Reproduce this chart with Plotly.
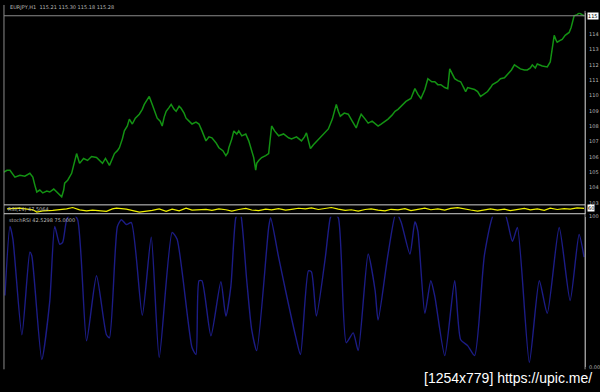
import plotly.graph_objects as go

# ---------------- data ----------------
price_bars = [0,3,6,9,11,16,21,26,29,31,
              33,36,39,43,46,50,53,56,58,60,
              61,64,68,70,73,76,80,84,88,93,
              96,99,102,106,109,111,114,116,119,121,
              124,126,129,132,136,139,141,144,146,149,
              151,154,157,159,161,163,166,168,171,173,
              176,178,181,183,186,189,193,196,199,203,
              206,209,213,216,220,223,225,226,229,231,
              234,236,239,243,246,249,251,253,254,256,
              259,263,266,269,272,276,281,286,289,294,
              299,302,304,306,308,311,313,316,321,326,
              330,334,336,338,342,346,350,354,357,359,
              363,366,370,373,376,379,383,386,390,393,
              396,399,404,409,411,413,416,419,423,426,
              430,433,436,439,443,446,448,451,453,456,
              459,462,464,466,469,473,476,479,482,486,
              489,491,496,499,503,506,510,513,516,519,
              523,526,529,531,534,536,541,546,549,551,
              553,555,556,559,561,564,568,570,571,573,
              576,578,581,583]
price = [105.00,105.13,105.13,104.87,104.68,104.80,104.74,104.93,104.68,104.16,
         103.71,103.84,103.65,103.77,103.71,103.90,103.71,103.58,103.39,103.84,
         104.29,104.48,104.93,105.45,106.22,105.58,105.90,105.77,106.03,105.96,
         105.77,105.58,105.90,105.45,105.90,106.22,106.41,106.60,107.18,107.70,
         108.02,108.47,108.15,108.53,108.79,109.11,109.43,109.76,109.95,109.43,
         109.11,108.53,108.34,108.02,108.60,108.98,109.24,109.43,109.11,108.98,
         109.31,109.18,108.86,108.53,108.34,108.15,108.28,108.15,107.70,107.05,
         107.31,107.25,106.93,106.60,106.41,106.09,106.28,106.60,107.18,107.70,
         107.50,107.70,107.38,107.50,107.05,106.41,105.96,105.13,105.58,105.77,
         105.96,106.09,106.22,108.02,107.70,107.38,107.50,107.25,107.18,107.31,
         107.05,107.31,107.57,107.05,106.54,106.80,106.93,107.18,107.50,107.83,
         108.47,109.43,108.98,108.66,108.86,108.79,108.34,107.89,108.47,108.79,
         108.47,108.21,108.34,108.15,108.02,108.15,108.34,108.47,108.73,108.98,
         109.11,109.31,109.63,109.82,110.14,110.46,110.08,109.82,110.40,111.11,
         110.91,110.91,110.72,110.72,110.53,110.46,111.75,111.36,111.11,110.98,
         110.91,110.53,110.27,110.53,110.46,110.40,110.27,109.95,110.08,110.27,
         110.53,110.72,110.91,111.11,111.17,111.36,111.68,112.01,111.88,111.75,
         111.68,111.68,111.81,112.01,111.81,112.07,111.94,111.88,112.20,113.16,
         113.94,113.61,113.49,113.61,113.68,113.94,114.13,114.45,114.77,115.22,
         115.29,115.41,115.29,115.22]

rsi_bars = [3,16,29,33,39,49,63,69,76,83,89,103,109,113,123,129,136,149,156,163,169,176,183,189,196,
            203,209,216,223,229,236,243,249,256,263,269,276,283,289,296,303,309,316,323,329,
            336,343,349,356,363,369,376,383,389,396,403,409,416,423,429,436,443,449,456,463,
            469,476,483,489,496,503,509,516,523,529,536,543,549,556,563,569,576,583]
rsi = [55,63,44,19,33,37,55,70,44,33,41,26,55,63,52,33,19,37,55,26,52,33,63,41,44,
       50,38,55,45,30,48,60,42,35,52,44,58,40,50,62,55,66,48,60,70,
       52,38,45,30,48,55,40,33,50,44,58,36,50,62,45,55,40,60,68,50,
       42,30,45,55,40,52,35,48,60,44,55,38,62,48,58,52,65,60]

stoch_bars = [1,6,9,18,26,28,38,46,51,56,59,63,68,74,83,93,103,106,114,118,123,128,139,148,156,
              169,174,189,193,196,199,208,218,223,228,233,236,238,244,249,254,266,268,276,283,
              293,298,306,309,314,323,328,331,336,344,351,356,366,373,376,386,394,399,408,413,
              416,423,429,433,443,453,459,466,473,483,493,503,511,516,528,538,546,558,569,578,583]
stoch = [47.7,93.5,85.0,21.6,76.5,73.9,5.2,43.8,93.5,81.7,83.0,98.0,103,98.0,17.6,60.8,21.6,19.6,93.5,98.0,
         94.8,96.1,34.6,86.3,6.5,89.5,85.0,13.1,8.5,57.5,57.5,20.9,56.9,34.0,53.6,99.3,103,101.3,57.5,24.8,
         11.1,92.8,99.3,73.2,51.0,20.9,8.5,64.1,63.4,34.0,73.2,99.3,102.6,99.3,16.3,22.9,11.1,75.2,51.0,31.4,
         75.2,102.6,96.7,75.2,96.7,90.2,35.9,57.5,47.1,7.8,57.5,18.3,14.4,7.8,75.2,102.6,102.6,83.7,92.8,3.3,
         57.5,35.9,92.8,44.4,88.2,73.2]

price_ticks = [103, 104, 105, 106, 107, 108, 109, 110, 111, 112, 113, 114]
stoch_ticks = [0, 100]
stoch_labels = ["0.00", "100"]
header_text = "EURJPY,H1  115.21 115.30 115.18 115.28"
rsi_text = "RSI(14) 47.5064"
stoch_text = "stochRSI 42.5298 75.0000"
watermark = "[1254x779] https://upic.me/"

# ---------------- figure ----------------
W, H = 600, 392
def py(px):  # pixel row -> paper y
    return 1 - px / H
def pxx(px):
    return px / W

GRID = "#9a9a9a"
TXT = "#b8b8b8"

fig = go.Figure()
fig.add_trace(go.Scatter(x=price_bars, y=price, mode="lines",
                         line=dict(color="#139213", width=1.5), xaxis="x", yaxis="y"))
fig.add_trace(go.Scatter(x=rsi_bars, y=rsi, mode="lines",
                         line=dict(color="#f0f000", width=1.2), xaxis="x2", yaxis="y2"))
fig.add_trace(go.Scatter(x=stoch_bars, y=stoch, mode="lines", line_shape="spline",
                         line=dict(color="#1c1c86", width=1.4, smoothing=0.6),
                         xaxis="x3", yaxis="y3"))

xr = [0, 584]
xdom = [pxx(4), pxx(588)]
common_x = dict(range=xr, domain=xdom, showgrid=False, zeroline=False,
                showticklabels=False, showline=False, fixedrange=True)
fig.update_layout(
    width=W, height=H, margin=dict(l=0, r=0, t=0, b=0),
    paper_bgcolor="black", plot_bgcolor="black", showlegend=False,
    xaxis=dict(anchor="y", **common_x),
    xaxis2=dict(anchor="y2", **common_x),
    xaxis3=dict(anchor="y3", **common_x),
    yaxis=dict(domain=[py(205), py(10)], range=[102.87, 115.41], side="right",
               tickvals=price_ticks, ticktext=[str(t) for t in price_ticks],
               tickfont=dict(size=5, color=TXT, family="DejaVu Sans"),
               showgrid=False, zeroline=False, showline=True, linecolor=GRID,
               linewidth=1, ticks="", ticklabelstandoff=2, anchor="x"),
    yaxis2=dict(domain=[py(214), py(205)], range=[0, 100], side="right",
                showticklabels=False, showgrid=False, zeroline=False,
                showline=True, linecolor=GRID, anchor="x2"),
    yaxis3=dict(domain=[py(370), py(217)], range=[0, 100], side="right",
                tickvals=stoch_ticks, ticktext=stoch_labels,
                tickfont=dict(size=5, color=TXT, family="DejaVu Sans"),
                showgrid=False, zeroline=False, showline=True, linecolor=GRID,
                ticks="", ticklabelstandoff=2, anchor="x3"),
)

shapes = [
    dict(type="line", xref="paper", yref="paper", x0=pxx(4), x1=pxx(4),
         y0=py(372), y1=py(2), line=dict(color="#8a8a8a", width=1)),
    dict(type="line", xref="paper", yref="paper", x0=pxx(588), x1=pxx(588),
         y0=py(372), y1=py(8), line=dict(color=GRID, width=1)),
    dict(type="line", xref="paper", yref="paper", x0=pxx(4), x1=pxx(588),
         y0=py(205), y1=py(205), line=dict(color="#d0d0d0", width=1)),
    dict(type="line", xref="paper", yref="paper", x0=pxx(4), x1=pxx(588),
         y0=py(214), y1=py(214), line=dict(color="#d0d0d0", width=1)),
    dict(type="line", xref="x", yref="y", x0=0, x1=584, y0=price[-1], y1=price[-1],
         line=dict(color="#8a8a8a", width=1)),
]
fig.update_layout(shapes=shapes)

ann = [
    dict(text=header_text, xref="paper", yref="paper", x=pxx(8), y=py(4),
         xanchor="left", yanchor="middle", showarrow=False,
         font=dict(size=5, color=TXT, family="DejaVu Sans")),
    dict(text=rsi_text, xref="paper", yref="paper", x=pxx(6), y=py(209.5),
         xanchor="left", yanchor="middle", showarrow=False,
         font=dict(size=5, color=TXT, family="DejaVu Sans")),
    dict(text=stoch_text, xref="paper", yref="paper", x=pxx(7), y=py(220),
         xanchor="left", yanchor="middle", showarrow=False,
         font=dict(size=5, color=TXT, family="DejaVu Sans")),
    dict(text=f"{price[-1]:.0f}", xref="paper", yref="y", x=pxx(590), y=price[-1],
         xanchor="left", yanchor="middle", showarrow=False, bgcolor="white",
         borderpad=0, font=dict(size=5, color="black", family="DejaVu Sans")),
    dict(text=f"{rsi[-1]:.0f}", xref="paper", yref="y2", x=pxx(590), y=rsi[-1],
         xanchor="left", yanchor="middle", showarrow=False, bgcolor="white",
         borderpad=0, font=dict(size=5, color="black", family="DejaVu Sans")),
    dict(text=watermark, xref="paper", yref="paper", x=pxx(597), y=py(381),
         xanchor="right", yanchor="middle", showarrow=False,
         font=dict(size=14, color="white", family="Liberation Sans")),
]
fig.update_layout(annotations=ann)

fig.write_html("out.html")
